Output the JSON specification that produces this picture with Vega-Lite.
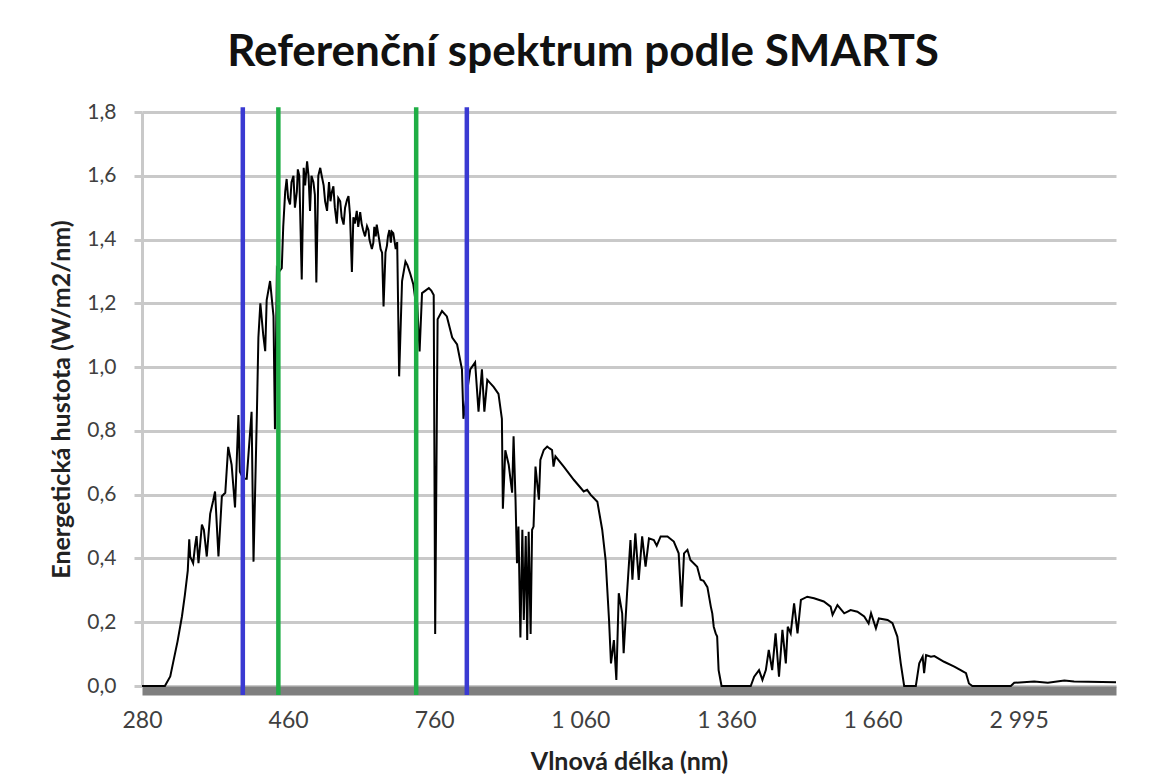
{
  "$schema": "https://vega.github.io/schema/vega-lite/v6.json",
  "autosize": {"type": "none"},
  "width": 974,
  "height": 574,
  "padding": {"left": 142, "top": 112, "right": 50, "bottom": 90},
  "background": "white",
  "config": {"view": {"stroke": null}, "font": "Lato"},
  "title": {"text": "Referenční spektrum podle SMARTS", "font": "Lato", "fontSize": 44, "fontWeight": "bold", "color": "#111111", "anchor": "middle", "dx": -46, "offset": 26},
  "datasets": {
    "spektrum": [
{"i":0,"v":0},{"i":47,"v":0},{"i":58,"v":0.03},{"i":64,"v":0.074},{"i":73,"v":0.14},{"i":82,"v":0.218},{"i":88,"v":0.285},{"i":94,"v":0.362},{"i":97,"v":0.46},{"i":99,"v":0.406},{"i":105,"v":0.385},{"i":109,"v":0.44},{"i":112,"v":0.47},{"i":116,"v":0.385},{"i":123,"v":0.506},{"i":127,"v":0.49},{"i":133,"v":0.406},{"i":140,"v":0.54},{"i":146,"v":0.58},{"i":150,"v":0.61},{"i":157,"v":0.406},{"i":164,"v":0.595},{"i":171,"v":0.606},{"i":177,"v":0.75},{"i":184,"v":0.694},{"i":191,"v":0.56},{"i":198,"v":0.85},{"i":201,"v":0.672},{"i":208,"v":0.65},{"i":215,"v":0.65},{"i":225,"v":0.86},{"i":229,"v":0.39},{"i":236,"v":0.86},{"i":239,"v":1.093},{"i":243,"v":1.2},{"i":249,"v":1.1},{"i":253,"v":1.05},{"i":256,"v":1.21},{"i":263,"v":1.27},{"i":270,"v":1.16},{"i":273,"v":0.805},{"i":277,"v":1.31},{"i":282,"v":1.3},{"i":287,"v":1.31},{"i":290,"v":1.44},{"i":294,"v":1.55},{"i":297,"v":1.59},{"i":300,"v":1.53},{"i":304,"v":1.51},{"i":307,"v":1.58},{"i":311,"v":1.6},{"i":314,"v":1.5},{"i":318,"v":1.55},{"i":320,"v":1.62},{"i":323,"v":1.6},{"i":328,"v":1.275},{"i":332,"v":1.625},{"i":335,"v":1.57},{"i":339,"v":1.645},{"i":342,"v":1.6},{"i":345,"v":1.49},{"i":348,"v":1.6},{"i":352,"v":1.58},{"i":355,"v":1.54},{"i":358,"v":1.265},{"i":362,"v":1.6},{"i":366,"v":1.625},{"i":369,"v":1.6},{"i":373,"v":1.57},{"i":376,"v":1.52},{"i":380,"v":1.49},{"i":384,"v":1.58},{"i":387,"v":1.52},{"i":390,"v":1.55},{"i":393,"v":1.567},{"i":396,"v":1.5},{"i":400,"v":1.45},{"i":403,"v":1.53},{"i":407,"v":1.52},{"i":410,"v":1.47},{"i":414,"v":1.447},{"i":417,"v":1.5},{"i":421,"v":1.525},{"i":424,"v":1.536},{"i":427,"v":1.48},{"i":431,"v":1.298},{"i":434,"v":1.47},{"i":437,"v":1.45},{"i":441,"v":1.49},{"i":444,"v":1.44},{"i":448,"v":1.486},{"i":451,"v":1.45},{"i":454,"v":1.43},{"i":458,"v":1.41},{"i":462,"v":1.442},{"i":465,"v":1.43},{"i":467,"v":1.4},{"i":472,"v":1.37},{"i":475,"v":1.39},{"i":477,"v":1.44},{"i":480,"v":1.41},{"i":482,"v":1.447},{"i":487,"v":1.4},{"i":490,"v":1.37},{"i":493,"v":1.359},{"i":496,"v":1.19},{"i":500,"v":1.36},{"i":503,"v":1.381},{"i":505,"v":1.41},{"i":508,"v":1.43},{"i":511,"v":1.39},{"i":513,"v":1.425},{"i":516,"v":1.42},{"i":518,"v":1.4},{"i":521,"v":1.37},{"i":524,"v":1.392},{"i":528,"v":0.971},{"i":534,"v":1.27},{"i":541,"v":1.331},{"i":545,"v":1.32},{"i":551,"v":1.292},{"i":557,"v":1.26},{"i":561,"v":1.215},{"i":565,"v":1.2},{"i":570,"v":1.049},{"i":575,"v":1.232},{"i":582,"v":1.24},{"i":589,"v":1.248},{"i":594,"v":1.24},{"i":599,"v":1.226},{"i":602,"v":0.163},{"i":607,"v":1.15},{"i":616,"v":1.176},{"i":626,"v":1.159},{"i":637,"v":1.093},{"i":647,"v":1.071},{"i":657,"v":0.993},{"i":660,"v":0.838},{"i":667,"v":0.916},{"i":674,"v":0.993},{"i":684,"v":1.015},{"i":691,"v":0.86},{"i":698,"v":0.993},{"i":703,"v":0.86},{"i":709,"v":0.96},{"i":715,"v":0.95},{"i":722,"v":0.938},{"i":732,"v":0.916},{"i":739,"v":0.838},{"i":741,"v":0.556},{"i":746,"v":0.739},{"i":753,"v":0.694},{"i":760,"v":0.606},{"i":763,"v":0.783},{"i":767,"v":0.584},{"i":770,"v":0.385},{"i":773,"v":0.5},{"i":777,"v":0.152},{"i":781,"v":0.49},{"i":784,"v":0.207},{"i":788,"v":0.47},{"i":791,"v":0.144},{"i":794,"v":0.484},{"i":798,"v":0.163},{"i":801,"v":0.49},{"i":804,"v":0.5},{"i":808,"v":0.688},{"i":815,"v":0.584},{"i":818,"v":0.709},{"i":825,"v":0.74},{"i":832,"v":0.751},{"i":837,"v":0.745},{"i":842,"v":0.74},{"i":845,"v":0.688},{"i":849,"v":0.72},{"i":866,"v":0.688},{"i":887,"v":0.646},{"i":907,"v":0.61},{"i":914,"v":0.615},{"i":921,"v":0.6},{"i":935,"v":0.578},{"i":945,"v":0.49},{"i":952,"v":0.395},{"i":959,"v":0.207},{"i":963,"v":0.071},{"i":969,"v":0.144},{"i":974,"v":0.019},{"i":979,"v":0.291},{"i":986,"v":0.228},{"i":989,"v":0.103},{"i":996,"v":0.291},{"i":1003,"v":0.458},{"i":1007,"v":0.333},{"i":1013,"v":0.479},{"i":1020,"v":0.333},{"i":1027,"v":0.469},{"i":1034,"v":0.374},{"i":1041,"v":0.463},{"i":1051,"v":0.458},{"i":1057,"v":0.44},{"i":1065,"v":0.469},{"i":1079,"v":0.469},{"i":1092,"v":0.453},{"i":1102,"v":0.416},{"i":1108,"v":0.249},{"i":1113,"v":0.416},{"i":1120,"v":0.427},{"i":1126,"v":0.395},{"i":1140,"v":0.374},{"i":1147,"v":0.333},{"i":1153,"v":0.33},{"i":1161,"v":0.31},{"i":1168,"v":0.249},{"i":1171,"v":0.228},{"i":1174,"v":0.186},{"i":1178,"v":0.165},{"i":1181,"v":0.155},{"i":1184,"v":0.05},{"i":1190,"v":0},{"i":1250,"v":0},{"i":1257,"v":0.029},{"i":1267,"v":0.05},{"i":1274,"v":0.019},{"i":1281,"v":0.05},{"i":1287,"v":0.113},{"i":1294,"v":0.05},{"i":1301,"v":0.165},{"i":1308,"v":0.029},{"i":1315,"v":0.176},{"i":1322,"v":0.071},{"i":1326,"v":0.186},{"i":1332,"v":0.165},{"i":1339,"v":0.259},{"i":1346,"v":0.165},{"i":1353,"v":0.27},{"i":1366,"v":0.28},{"i":1380,"v":0.275},{"i":1400,"v":0.265},{"i":1414,"v":0.249},{"i":1418,"v":0.223},{"i":1428,"v":0.254},{"i":1442,"v":0.228},{"i":1455,"v":0.238},{"i":1469,"v":0.233},{"i":1483,"v":0.218},{"i":1492,"v":0.196},{"i":1497,"v":0.228},{"i":1507,"v":0.181},{"i":1513,"v":0.212},{"i":1531,"v":0.207},{"i":1541,"v":0.197},{"i":1551,"v":0.155},{"i":1558,"v":0.071},{"i":1565,"v":0},{"i":1589,"v":0},{"i":1596,"v":0.071},{"i":1603,"v":0.092},{"i":1606,"v":0.04},{"i":1610,"v":0.097},{"i":1620,"v":0.092},{"i":1627,"v":0.094},{"i":1647,"v":0.076},{"i":1668,"v":0.061},{"i":1681,"v":0.05},{"i":1692,"v":0.04},{"i":1698,"v":0.008},{"i":1705,"v":0},{"i":1784,"v":0},{"i":1791,"v":0.01},{"i":1832,"v":0.014},{"i":1860,"v":0.01},{"i":1894,"v":0.017},{"i":1914,"v":0.014},{"i":2000,"v":0.012}
    ],
    "hranice": [
      {"i": 207, "barva": "modrá"},
      {"i": 280, "barva": "zelená"},
      {"i": 563, "barva": "zelená"},
      {"i": 667, "barva": "modrá"}
    ]
  },
  "layer": [
    {
      "data": {"name": "spektrum"},
      "mark": {"type": "line", "color": "#000000", "strokeWidth": 2},
      "encoding": {
        "x": {
          "field": "i", "type": "quantitative",
          "scale": {"domain": [0, 2000], "nice": false, "zero": false},
          "axis": {
            "title": "Vlnová délka (nm)",
            "values": [0, 300, 600, 900, 1200, 1500, 1800],
            "labelExpr": "['280','460','760','1 060','1 360','1 660','2 995'][round(datum.value/300)]",
            "grid": false, "ticks": false, "tickSize": 0,
            "domainColor": "#7f7f7f", "domainWidth": 9, "offset": 4.5,
            "labelFont": "Lato", "labelFontSize": 23, "labelColor": "#404040", "labelPadding": 19, "labelFlush": false,
            "titleFont": "Lato", "titleFontSize": 25, "titleFontWeight": "bold", "titleColor": "#222222", "titlePadding": 17
          }
        },
        "y": {
          "field": "v", "type": "quantitative",
          "scale": {"domain": [0, 1.8], "nice": false},
          "axis": {
            "title": "Energetická hustota (W/m2/nm)",
            "values": [0, 0.2, 0.4, 0.6, 0.8, 1.0, 1.2, 1.4, 1.6, 1.8],
            "labelExpr": "replace(format(datum.value, '.1f'), '.', ',')",
            "gridColor": "#c9c9c9", "gridWidth": 3,
            "domainColor": "#c9c9c9", "domainWidth": 3,
            "tickColor": "#c9c9c9", "tickWidth": 3, "tickSize": 8,
            "labelFont": "Lato", "labelFontSize": 21, "labelColor": "#404040", "labelPadding": 18,
            "titleFont": "Lato", "titleFontSize": 25, "titleFontWeight": "bold", "titleColor": "#222222", "titlePadding": 12
          }
        }
      }
    },
    {
      "data": {"name": "hranice"},
      "mark": {"type": "rule", "strokeWidth": 4.5},
      "encoding": {
        "x": {"field": "i", "type": "quantitative"},
        "y": {"datum": -0.028},
        "y2": {"datum": 1.815},
        "color": {"field": "barva", "type": "nominal", "scale": {"domain": ["modrá", "zelená"], "range": ["#3a3ad2", "#1fae45"]}, "legend": null}
      }
    }
  ]
}
